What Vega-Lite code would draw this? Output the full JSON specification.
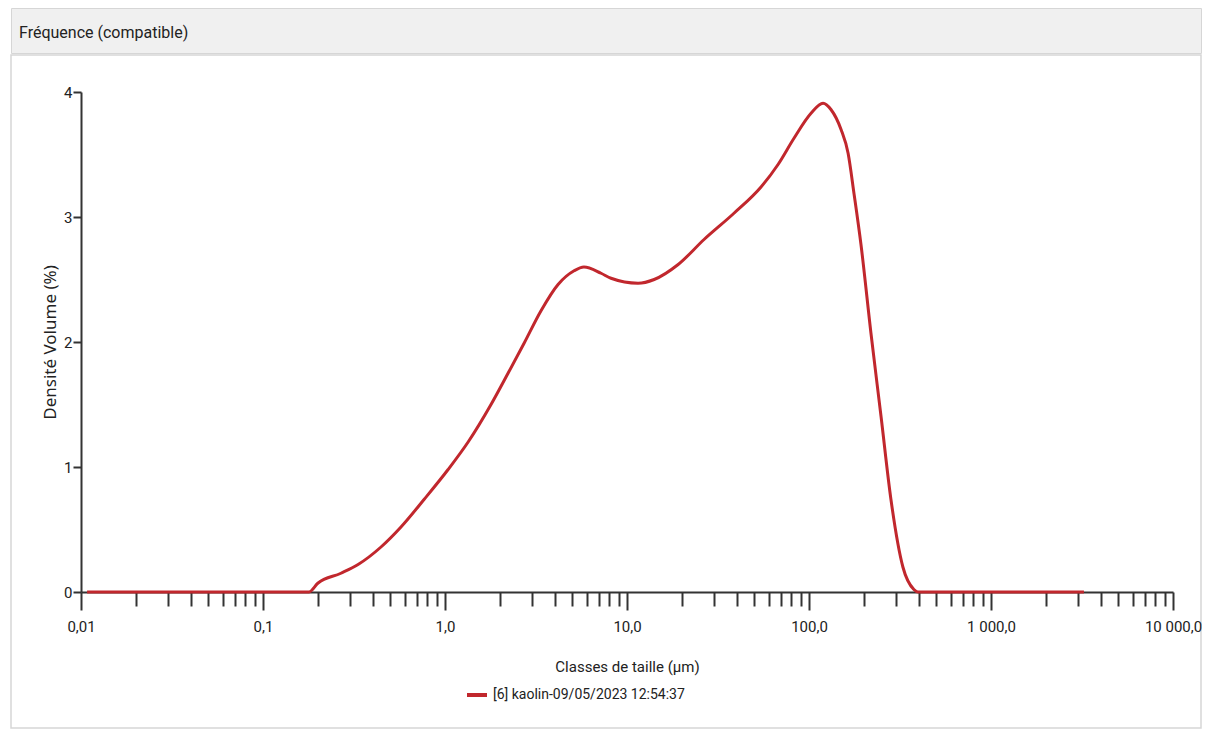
{
  "$schema": "https://vega.github.io/schema/vega-lite/v6.json",
  "background": "white",
  "padding": {"left": 10, "top": 7, "right": 10, "bottom": 10},
  "spacing": 0,
  "config": {
    "view": {"stroke": "#d6d6d6", "strokeWidth": 1.5},
    "concat": {"spacing": 0}
  },
  "datasets": {
    "header": [{"h": 1}],
    "curve": [
      {"size": 0.0108, "density": 0, "series": "[6] kaolin-09/05/2023 12:54:37"},
      {"size": 0.179, "density": 0, "series": "[6] kaolin-09/05/2023 12:54:37"},
      {"size": 0.2, "density": 0.07, "series": "[6] kaolin-09/05/2023 12:54:37"},
      {"size": 0.268, "density": 0.15, "series": "[6] kaolin-09/05/2023 12:54:37"},
      {"size": 0.333, "density": 0.22, "series": "[6] kaolin-09/05/2023 12:54:37"},
      {"size": 0.445, "density": 0.36, "series": "[6] kaolin-09/05/2023 12:54:37"},
      {"size": 0.573, "density": 0.52, "series": "[6] kaolin-09/05/2023 12:54:37"},
      {"size": 0.767, "density": 0.74, "series": "[6] kaolin-09/05/2023 12:54:37"},
      {"size": 1.04, "density": 0.98, "series": "[6] kaolin-09/05/2023 12:54:37"},
      {"size": 1.34, "density": 1.2, "series": "[6] kaolin-09/05/2023 12:54:37"},
      {"size": 1.79, "density": 1.5, "series": "[6] kaolin-09/05/2023 12:54:37"},
      {"size": 2.22, "density": 1.75, "series": "[6] kaolin-09/05/2023 12:54:37"},
      {"size": 2.72, "density": 1.99, "series": "[6] kaolin-09/05/2023 12:54:37"},
      {"size": 3.37, "density": 2.25, "series": "[6] kaolin-09/05/2023 12:54:37"},
      {"size": 4.18, "density": 2.46, "series": "[6] kaolin-09/05/2023 12:54:37"},
      {"size": 5.12, "density": 2.57, "series": "[6] kaolin-09/05/2023 12:54:37"},
      {"size": 5.8, "density": 2.6, "series": "[6] kaolin-09/05/2023 12:54:37"},
      {"size": 7.2, "density": 2.55, "series": "[6] kaolin-09/05/2023 12:54:37"},
      {"size": 8.17, "density": 2.51, "series": "[6] kaolin-09/05/2023 12:54:37"},
      {"size": 11.5, "density": 2.47, "series": "[6] kaolin-09/05/2023 12:54:37"},
      {"size": 14.1, "density": 2.5, "series": "[6] kaolin-09/05/2023 12:54:37"},
      {"size": 19.1, "density": 2.62, "series": "[6] kaolin-09/05/2023 12:54:37"},
      {"size": 26.5, "density": 2.82, "series": "[6] kaolin-09/05/2023 12:54:37"},
      {"size": 38.7, "density": 3.03, "series": "[6] kaolin-09/05/2023 12:54:37"},
      {"size": 54.5, "density": 3.24, "series": "[6] kaolin-09/05/2023 12:54:37"},
      {"size": 67.6, "density": 3.42, "series": "[6] kaolin-09/05/2023 12:54:37"},
      {"size": 82.7, "density": 3.63, "series": "[6] kaolin-09/05/2023 12:54:37"},
      {"size": 102.6, "density": 3.83, "series": "[6] kaolin-09/05/2023 12:54:37"},
      {"size": 119.4, "density": 3.91, "series": "[6] kaolin-09/05/2023 12:54:37"},
      {"size": 132, "density": 3.86, "series": "[6] kaolin-09/05/2023 12:54:37"},
      {"size": 150, "density": 3.7, "series": "[6] kaolin-09/05/2023 12:54:37"},
      {"size": 164, "density": 3.51, "series": "[6] kaolin-09/05/2023 12:54:37"},
      {"size": 177, "density": 3.18, "series": "[6] kaolin-09/05/2023 12:54:37"},
      {"size": 193, "density": 2.78, "series": "[6] kaolin-09/05/2023 12:54:37"},
      {"size": 219, "density": 2.07, "series": "[6] kaolin-09/05/2023 12:54:37"},
      {"size": 249, "density": 1.4, "series": "[6] kaolin-09/05/2023 12:54:37"},
      {"size": 282, "density": 0.74, "series": "[6] kaolin-09/05/2023 12:54:37"},
      {"size": 328, "density": 0.2, "series": "[6] kaolin-09/05/2023 12:54:37"},
      {"size": 377, "density": 0.02, "series": "[6] kaolin-09/05/2023 12:54:37"},
      {"size": 397, "density": 0, "series": "[6] kaolin-09/05/2023 12:54:37"},
      {"size": 3240, "density": 0, "series": "[6] kaolin-09/05/2023 12:54:37"}
    ]
  },
  "vconcat": [
    {
      "width": 1190,
      "height": 45,
      "data": {"name": "header"},
      "view": {"fill": "#f0f0f0", "stroke": "#d6d6d6"},
      "title": {
        "text": "Fréquence (compatible)",
        "anchor": "start",
        "orient": "top",
        "frame": "group",
        "offset": -41,
        "baseline": "middle",
        "dx": 8,
        "font": "Roboto",
        "fontSize": 16,
        "fontWeight": "normal",
        "color": "#222222"
      },
      "mark": {"type": "text", "text": ""},
      "encoding": {}
    },
    {
      "width": 1190,
      "height": 673,
      "data": {"name": "curve"},
      "mark": {"type": "line", "strokeWidth": 3, "interpolate": "monotone"},
      "encoding": {
        "x": {
          "field": "size",
          "type": "quantitative",
          "scale": {"type": "log", "domain": [0.01, 10000], "range": [70, 1162], "nice": false},
          "axis": {
            "values": [0.01, 0.02, 0.03, 0.04, 0.05, 0.06, 0.07, 0.08, 0.09, 0.1, 0.2, 0.3, 0.4, 0.5, 0.6, 0.7, 0.8, 0.9, 1, 2, 3, 4, 5, 6, 7, 8, 9, 10, 20, 30, 40, 50, 60, 70, 80, 90, 100, 200, 300, 400, 500, 600, 700, 800, 900, 1000, 2000, 3000, 4000, 5000, 6000, 7000, 8000, 9000, 10000],
            "labelExpr": "datum.value==0.01?'0,01':datum.value==0.1?'0,1':datum.value==1?'1,0':datum.value==10?'10,0':datum.value==100?'100,0':datum.value==1000?'1 000,0':datum.value==10000?'10 000,0':''",
            "offset": -136,
            "grid": false,
            "domainColor": "#333333",
            "domainWidth": 2,
            "tickColor": "#333333",
            "tickWidth": 2,
            "tickSize": {"condition": {"test": "indexof([0.01,0.1,1,10,100,1000,10000], datum.value) >= 0", "value": 18}, "value": 14},
            "labelFont": "Roboto",
            "labelFontSize": 15,
            "labelColor": "#222222",
            "labelPadding": 9,
            "labelOverlap": false,
            "labelFlush": false,
            "labelBound": false,
            "title": "Classes de taille (µm)",
            "titleFont": "Roboto",
            "titleFontSize": 15,
            "titleFontWeight": "normal",
            "titleColor": "#222222",
            "titlePadding": 25
          }
        },
        "y": {
          "field": "density",
          "type": "quantitative",
          "scale": {"domain": [0, 4], "range": [537, 37], "nice": false},
          "axis": {
            "values": [0, 1, 2, 3, 4],
            "offset": -70,
            "grid": false,
            "domainColor": "#333333",
            "domainWidth": 2,
            "tickColor": "#333333",
            "tickWidth": 2,
            "tickSize": 8,
            "labelFont": "Roboto",
            "labelFontSize": 15,
            "labelColor": "#222222",
            "labelPadding": 1,
            "title": "Densité Volume (%)",
            "titleFont": "Noto Sans",
            "titleFontSize": 17,
            "titleFontWeight": "normal",
            "titleColor": "#222222",
            "titlePadding": 4
          }
        },
        "color": {
          "field": "series",
          "type": "nominal",
          "scale": {"range": ["#c1272d"]},
          "legend": {
            "orient": "none",
            "legendX": 454,
            "legendY": 675,
            "title": null,
            "symbolType": "stroke",
            "symbolSize": 400,
            "symbolStrokeWidth": 4,
            "labelFont": "Roboto",
            "labelFontSize": 14,
            "labelLimit": 0,
            "labelColor": "#222222"
          }
        }
      }
    }
  ]
}
